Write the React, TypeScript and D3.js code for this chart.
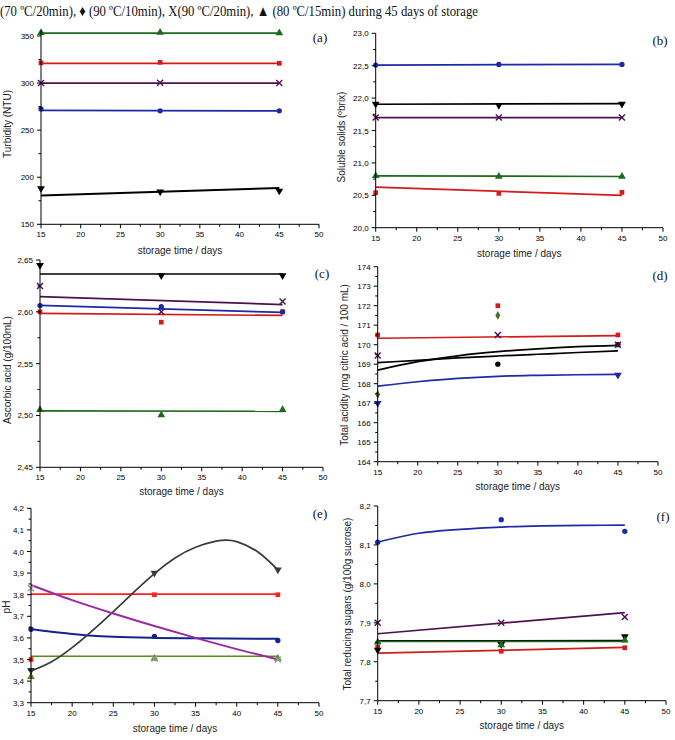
import React from 'react';
import * as d3 from 'd3';

// ---------- shared ----------
const days = [15, 30, 45];
const fitEnds = [15, 45];
const xTicks = [15, 20, 25, 30, 35, 40, 45, 50];
const titleText = '(70 ºC/20min), ♦ (90 ºC/10min), X(90 ºC/20min), ▲ (80 ºC/15min) during 45 days of storage';

// ---------- (a) Turbidity ----------
const turbTicks = [150, 200, 250, 300, 350];
const turbGreen = [353.5, 353.8, 353.3];
const turbGreenFit = [353, 353];
const turbRed = [321.5, 322, 321];
const turbRedFit = [321, 321];
const turbX = [300, 300.3, 300];
const turbXFit = [300, 300];
const turbBlue = [272.5, 270.5, 270.5];
const turbBlueFit = [271, 270.5];
const turbBlack = [188, 184.5, 185.5];
const turbBlackFit = [180.5, 188.5];

// ---------- (b) Soluble solids ----------
const ssTicks = [20.0, 20.5, 21.0, 21.5, 22.0, 22.5, 23.0];
const ssBlue = [22.51, 22.52, 22.52];
const ssBlueFit = [22.51, 22.52];
const ssBlack = [21.91, 21.89, 21.91];
const ssBlackFit = [21.905, 21.915];
const ssX = [21.7, 21.7, 21.7];
const ssXFit = [21.7, 21.7];
const ssGreen = [20.8, 20.79, 20.79];
const ssGreenFit = [20.8, 20.79];
const ssRed = [20.54, 20.53, 20.545];
const ssRedFit = [20.625, 20.5];

// ---------- (c) Ascorbic acid ----------
const aaTicks = [2.45, 2.5, 2.55, 2.6, 2.65];
const aaBlack = [2.645, 2.635, 2.635];
const aaBlackFit = [2.6365, 2.6365];
const aaX = [2.625, 2.6, 2.61];
const aaXFit = [2.6147, 2.607];
const aaBlue = [2.606, 2.605, 2.6];
const aaBlueFit = [2.6062, 2.5995];
const aaRed = [2.6, 2.59, 2.6];
const aaRedFit = [2.5985, 2.5965];
const aaGreen = [2.5055, 2.5005, 2.5055];
const aaGreenFit = [2.5045, 2.504];

// ---------- (d) Total acidity ----------
const taTicks = [164, 165, 166, 167, 168, 169, 170, 171, 172, 173, 174];
const taRed = [170.5, 172.0, 170.5];
const taRedFit = [170.33, 170.47];
const taDiamond = [167.45, 171.5, null];
const taX = [169.45, 170.5, 170.0];
const taBlue = [167.0, null, 168.45];
const taBlack = [null, 169.0, 170.0];
const taCurveDays = [15, 20, 25, 30, 35, 40, 45];
const taBlueCurve = [167.88, 168.1, 168.27, 168.38, 168.43, 168.46, 168.48];
const taBlack1Curve = [169.08, 169.2, 169.32, 169.42, 169.51, 169.6, 169.68];
const taBlack2Curve = [168.7, 169.13, 169.43, 169.64, 169.79, 169.9, 169.97];

// ---------- (e) pH ----------
const phTicks = [3.3, 3.4, 3.5, 3.6, 3.7, 3.8, 3.9, 4.0, 4.1, 4.2];
const phRed = [3.5, 3.8, 3.8];
const phRedFit = [3.803, 3.803];
const phGreen = [3.42, 3.505, 3.505];
const phGreenFit = [3.515, 3.515];
const phBlue = [3.64, 3.607, 3.588];
const phBlack = [3.45, 3.9, 3.915];
const phX = [3.83, 3.505, 3.5];
const phBlueDays = [15, 17.5, 20, 22.5, 25, 30, 35, 45];
const phBlueCurve = [3.641, 3.628, 3.618, 3.61, 3.605, 3.6, 3.598, 3.596];
const phBlackDays = [15, 17.5, 20, 22.5, 25, 27.5, 30, 32.5, 35, 37.5, 38.7, 40, 42.5, 45];
const phBlackCurve = [3.447, 3.49, 3.555, 3.635, 3.722, 3.812, 3.898, 3.97, 4.02, 4.048, 4.053, 4.046, 4.0, 3.915];
const phPurpleDays = [15, 20, 25, 30, 35, 40, 45];
const phPurpleCurve = [3.845, 3.775, 3.713, 3.655, 3.6, 3.548, 3.5];

// ---------- (f) Total reducing sugars ----------
const rsTicks = [7.7, 7.8, 7.9, 8.0, 8.1, 8.2];
const rsBlue = [8.107, 8.165, 8.135];
const rsBlueDays = [15, 20, 25, 30, 35, 40, 45];
const rsBlueCurve = [8.107, 8.13, 8.14, 8.146, 8.149, 8.15, 8.151];
const rsX = [7.9, 7.9, 7.915];
const rsXFit = [7.872, 7.926];
const rsBlack = [7.83, 7.845, 7.865];
const rsBlackFit = [7.853, 7.854];
const rsGreen = [7.85, 7.843, 7.855];
const rsGreenFit = [7.852, 7.852];
const rsRed = [7.837, 7.827, 7.836];
const rsRedFit = [7.822, 7.837];

// ---------- styles ----------
const C = {
  green: '#1d6a1d',
  red: '#d41a1a',
  purple: '#4b1250',
  blue: '#1b2aa6',
  black: '#000000',
  olive: '#4e6b2a',
  eRed: '#ff2020',
  eGreen: '#5a8a1a',
  eBlue: '#15238f',
  eBlack: '#3a3a3a',
  ePurple: '#9b2aa2',
  eGrey: '#9a9a9a',
};

type Series = {
  pts?: (number | null)[];
  marker?: string;
  color: string;
  mColor?: string;
  fitX?: number[];
  fit?: number[];
  smooth?: 'mono' | 'natural';
  width?: number;
};

type PanelCfg = {
  letter: string;
  xRange: [number, number];
  yDomain: [number, number];
  yRange: [number, number];
  yTop?: number;
  yTicks: number[];
  fmt: (v: number) => string;
  ylabel: string;
  ylx: number;
  yly: number;
  xly: number;
  lx: number;
  ly: number;
  series: Series[];
};

const comma = (d: number) => (v: number) => v.toFixed(d).replace('.', ',');

const panels: PanelCfg[] = [
  {
    letter: '(a)', xRange: [41, 319], yDomain: [150, 350], yRange: [224.3, 36], yTop: 356,
    yTicks: turbTicks, fmt: comma(0), ylabel: 'Turbidity (NTU)', ylx: 7, yly: 124, xly: 250, lx: 320, ly: 37,
    series: [
      { pts: turbBlack, marker: 'down', color: C.black, fitX: fitEnds, fit: turbBlackFit, width: 2 },
      { pts: turbBlue, marker: 'circle', color: C.blue, fitX: fitEnds, fit: turbBlueFit },
      { pts: turbX, marker: 'x', color: C.purple, fitX: fitEnds, fit: turbXFit },
      { pts: turbRed, marker: 'square', color: C.red, fitX: fitEnds, fit: turbRedFit },
      { pts: turbGreen, marker: 'triangle', color: C.green, fitX: fitEnds, fit: turbGreenFit },
    ],
  },
  {
    letter: '(b)', xRange: [375.7, 663], yDomain: [20, 23], yRange: [227.7, 33.3],
    yTicks: ssTicks, fmt: comma(1), ylabel: 'Soluble solids (ºbrix)', ylx: 341, yly: 137, xly: 253, lx: 660, ly: 40,
    series: [
      { pts: ssRed, marker: 'square', color: C.red, fitX: fitEnds, fit: ssRedFit },
      { pts: ssGreen, marker: 'triangle', color: C.green, fitX: fitEnds, fit: ssGreenFit },
      { pts: ssX, marker: 'x', color: C.purple, fitX: fitEnds, fit: ssXFit },
      { pts: ssBlack, marker: 'down', color: C.black, fitX: fitEnds, fit: ssBlackFit },
      { pts: ssBlue, marker: 'circle', color: C.blue, fitX: fitEnds, fit: ssBlueFit },
    ],
  },
  {
    letter: '(c)', xRange: [40, 323], yDomain: [2.45, 2.65], yRange: [467.3, 260],
    yTicks: aaTicks, fmt: comma(2), ylabel: 'Ascorbic acid (g/100mL)', ylx: 7, yly: 370, xly: 491, lx: 322, ly: 273,
    series: [
      { pts: aaGreen, marker: 'triangle', color: C.green, fitX: fitEnds, fit: aaGreenFit },
      { pts: aaRed, marker: 'square', color: C.red, fitX: fitEnds, fit: aaRedFit },
      { pts: aaBlue, marker: 'circle', color: C.blue, fitX: fitEnds, fit: aaBlueFit },
      { pts: aaX, marker: 'x', color: C.purple, fitX: fitEnds, fit: aaXFit },
      { pts: aaBlack, marker: 'down', color: C.black, fitX: fitEnds, fit: aaBlackFit },
    ],
  },
  {
    letter: '(d)', xRange: [377.7, 658], yDomain: [164, 174], yRange: [461.7, 266.7],
    yTicks: taTicks, fmt: comma(0), ylabel: 'Total acidity (mg citric acid / 100 mL)', ylx: 344, yly: 365, xly: 486, lx: 660, ly: 275,
    series: [
      { pts: taBlue, marker: 'down', color: C.blue, fitX: taCurveDays, fit: taBlueCurve, smooth: 'mono' },
      { color: C.black, fitX: taCurveDays, fit: taBlack1Curve, smooth: 'mono' },
      { pts: taBlack, marker: 'circle', color: C.black, fitX: taCurveDays, fit: taBlack2Curve, smooth: 'mono' },
      { pts: taRed, marker: 'square', color: C.red, fitX: fitEnds, fit: taRedFit },
      { pts: taDiamond, marker: 'diamond', color: C.olive },
      { pts: taX, marker: 'x', color: C.purple },
    ],
  },
  {
    letter: '(e)', xRange: [31, 319], yDomain: [3.3, 4.2], yRange: [702.7, 508.3],
    yTicks: phTicks, fmt: comma(1), ylabel: 'pH', ylx: 6, yly: 607, xly: 728, lx: 320, ly: 513,
    series: [
      { pts: phGreen, marker: 'triangle', color: C.eGreen, fitX: fitEnds, fit: phGreenFit },
      { pts: phRed, marker: 'square', color: C.eRed, fitX: fitEnds, fit: phRedFit },
      { pts: phBlue, marker: 'circle', color: C.eBlue, fitX: phBlueDays, fit: phBlueCurve, smooth: 'mono', width: 2 },
      { pts: phBlack, marker: 'down', color: C.eBlack, fitX: phBlackDays, fit: phBlackCurve, smooth: 'natural' },
      { pts: phX, marker: 'x', color: C.ePurple, mColor: C.eGrey, fitX: phPurpleDays, fit: phPurpleCurve, smooth: 'mono', width: 2 },
    ],
  },
  {
    letter: '(f)', xRange: [377.7, 666], yDomain: [7.7, 8.2], yRange: [700.7, 506],
    yTicks: rsTicks, fmt: comma(1), ylabel: 'Total reducing sugars (g/100g sucrose)', ylx: 347, yly: 604, xly: 725, lx: 663, ly: 516,
    series: [
      { pts: rsRed, marker: 'square', color: C.red, fitX: fitEnds, fit: rsRedFit },
      { pts: rsBlack, marker: 'down', color: C.black, fitX: fitEnds, fit: rsBlackFit, width: 2 },
      { pts: rsGreen, marker: 'triangle', color: C.green, fitX: fitEnds, fit: rsGreenFit },
      { pts: rsX, marker: 'x', color: C.purple, fitX: fitEnds, fit: rsXFit },
      { pts: rsBlue, marker: 'circle', color: C.blue, fitX: rsBlueDays, fit: rsBlueCurve, smooth: 'mono' },
    ],
  },
];

function Marker({ type, x, y, color }: { type: string; x: number; y: number; color: string }) {
  if (type === 'x') {
    const s = 3;
    return (
      <g stroke={color} strokeWidth={1.4}>
        <line x1={x - s} y1={y - s} x2={x + s} y2={y + s} />
        <line x1={x - s} y1={y + s} x2={x + s} y2={y - s} />
      </g>
    );
  }
  const map: Record<string, any> = {
    circle: [d3.symbolCircle, 22],
    square: [d3.symbolSquare, 22],
    triangle: [d3.symbolTriangle, 26],
    down: [d3.symbolTriangle, 26],
    diamond: [d3.symbolDiamond, 22],
  };
  const [t, size] = map[type];
  const path = d3.symbol().type(t).size(size)() as string;
  const rot = type === 'down' ? ' rotate(180)' : '';
  return <path d={path} transform={`translate(${x},${y})${rot}`} fill={color} />;
}

function Panel({ cfg }: { cfg: PanelCfg }) {
  const x = d3.scaleLinear().domain([15, 50]).range(cfg.xRange);
  const y = d3.scaleLinear().domain(cfg.yDomain).range(cfg.yRange);
  const [x0, x1] = cfg.xRange;
  const yb = cfg.yRange[0];
  const yTopPx = y(cfg.yTop ?? cfg.yDomain[1]);
  const yStep = cfg.yTicks[1] - cfg.yTicks[0];
  const yMinor = cfg.yTicks.slice(0, -1).map((v) => v + yStep / 2);
  const xMinor = xTicks.slice(0, -1).map((v) => v + 2.5);
  const sans = 'Arial, "Liberation Sans", sans-serif';
  return (
    <g>
      {cfg.series.map((s, i) => {
        if (!s.fit || !s.fitX) return null;
        const curve = s.smooth === 'natural' ? d3.curveNatural : s.smooth === 'mono' ? d3.curveMonotoneX : d3.curveLinear;
        const line = d3
          .line<number>()
          .x((_, j) => x(s.fitX![j]))
          .y((v) => y(v))
          .curve(curve);
        return <path key={'l' + i} d={line(s.fit) as string} fill="none" stroke={s.color} strokeWidth={s.width ?? 1.7} />;
      })}
      {cfg.series.map((s, i) =>
        (s.pts || []).map((v, j) =>
          v == null ? null : (
            <Marker key={'m' + i + '-' + j} type={s.marker!} x={x(days[j])} y={y(v)} color={s.mColor ?? s.color} />
          )
        )
      )}
      {/* axes */}
      <line x1={x0} x2={x1} y1={yb} y2={yb} stroke="#000" strokeWidth={1} />
      <line x1={x0} x2={x0} y1={yb} y2={yTopPx} stroke="#000" strokeWidth={1} />
      {xTicks.map((t) => (
        <g key={'xt' + t}>
          <line x1={x(t)} x2={x(t)} y1={yb} y2={yb + 4} stroke="#000" />
          <text x={x(t)} y={yb + 13} fontSize={8} fontFamily={sans} textAnchor="middle" fill="#000">
            {t}
          </text>
        </g>
      ))}
      {xMinor.map((t) => (
        <line key={'xm' + t} x1={x(t)} x2={x(t)} y1={yb} y2={yb + 2.5} stroke="#000" />
      ))}
      {cfg.yTicks.map((t) => (
        <g key={'yt' + t}>
          <line x1={x0 - 4} x2={x0} y1={y(t)} y2={y(t)} stroke="#000" />
          <text x={x0 - 7} y={y(t) + 3} fontSize={8} fontFamily={sans} textAnchor="end" fill="#000">
            {cfg.fmt(t)}
          </text>
        </g>
      ))}
      {yMinor.map((t) => (
        <line key={'ym' + t} x1={x0 - 2.5} x2={x0} y1={y(t)} y2={y(t)} stroke="#000" />
      ))}
      <text x={(x0 + x1) / 2} y={cfg.xly + 3.5} fontSize={10} fontFamily={sans} textAnchor="middle" fill="#222">
        storage time / days
      </text>
      <text
        transform={`translate(${cfg.ylx + 3.5},${cfg.yly}) rotate(-90)`}
        fontSize={10}
        fontFamily={sans}
        textAnchor="middle"
        fill="#222"
      >
        {cfg.ylabel}
      </text>
      <text x={cfg.lx} y={cfg.ly + 4.5} fontSize={13} fontFamily='"Liberation Serif", "Times New Roman", serif' textAnchor="middle" fill="#111">
        {cfg.letter}
      </text>
    </g>
  );
}

export default function App() {
  return (
    <svg
      width={675}
      height={740}
      viewBox="0 0 675 740"
      style={{ position: 'absolute', left: 0, top: 0, background: '#fff', display: 'block' }}
    >
      <rect width={675} height={740} fill="#fff" />
      <text
        x={0}
        y={16}
        fontSize={15}
        fontFamily='"Liberation Serif", "Times New Roman", serif'
        textLength={478}
        lengthAdjust="spacingAndGlyphs"
        fill="#111"
      >
        {titleText}
      </text>
      {panels.map((p) => (
        <Panel key={p.letter} cfg={p} />
      ))}
    </svg>
  );
}
